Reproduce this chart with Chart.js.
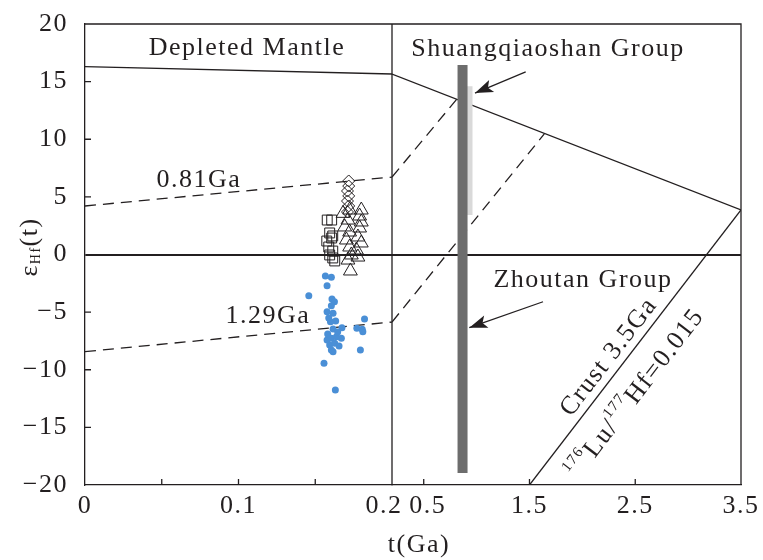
<!DOCTYPE html>
<html>
<head>
<meta charset="utf-8">
<script src="https://cdn.jsdelivr.net/npm/chart.js@4.4.1/dist/chart.umd.min.js"></script>
<style>
html, body { margin: 0; padding: 0; background: #fff; }
</style>
</head>
<body>
<canvas id="chart" width="763" height="560"></canvas>
<script>
// axis ticks
var xTicksLeft = [0, 0.05, 0.1, 0.15, 0.2];
var xLabelsLeft = ['0', '', '0.1', '', '0.2  '];
var xTicksRight = [0.5, 1.5, 2.5, 3.5];
var xLabelsRight = [' 0.5', '1.5', '2.5', '3.5'];
var yTicks = [20, 15, 10, 5, 0, -5, -10, -15, -20];
var BREAK_T = 0.2;

// zircon analyses, t (Ga) / eHf(t)
var dotT = [0.1566, 0.1605, 0.1577, 0.1458, 0.1609, 0.1625, 0.1605, 0.1577, 0.1616, 0.1599, 0.1633, 0.1616, 0.1674, 0.1821, 0.1771, 0.1806, 0.1810, 0.1577, 0.1605, 0.1638, 0.1670, 0.1594, 0.1627, 0.1655, 0.1605, 0.1616, 0.1794, 0.1557, 0.1631, 0.1588, 0.1646, 0.1581];
var dotE = [-1.87, -1.98, -2.71, -3.57, -3.86, -4.10, -4.44, -4.96, -5.10, -5.83, -5.77, -6.46, -6.35, -5.60, -6.40, -6.49, -6.70, -7.42, -7.27, -7.13, -7.27, -7.85, -7.70, -7.94, -8.29, -8.43, -8.29, -9.44, -11.76, -5.51, -6.72, -6.90];
var squareT = [0.1578, 0.1607, 0.1594, 0.1575, 0.1607, 0.1614, 0.1588, 0.1614, 0.1594, 0.1614, 0.1627];
var squareE = [2.99, 2.99, 1.87, 1.17, 1.43, 1.61, 0.65, 0.30, -0.04, -0.30, -0.56];
var diamondT = [0.1718, 0.1718, 0.1710, 0.1718, 0.1710, 0.1718, 0.1710];
var diamondE = [6.38, 5.94, 5.51, 5.08, 4.64, 4.21, 3.69];
var triT = [0.1724, 0.1800, 0.1789, 0.1681, 0.1713, 0.1800, 0.1692, 0.1789, 0.1724, 0.1778, 0.1703, 0.1800, 0.1724, 0.1768, 0.1735, 0.1778, 0.1713, 0.1729];
var triE = [3.86, 3.86, 3.34, 3.57, 2.99, 2.82, 2.39, 2.30, 1.95, 1.52, 1.26, 1.00, 0.65, 0.39, -0.04, -0.22, -0.48, -1.43];

// evolution lines
var dmT = [0, 0.2, 3.5];
var dmE = [16.3, 15.66, 3.86];
var ga081T = [0, 0.2, 0.813];
var ga081E = [4.21, 6.72, 13.48];
var ga129T = [0, 0.2, 1.64];
var ga129E = [-8.43, -5.86, 10.46];
var crustT = [1.5, 3.5];
var crustE = [-20, 3.86];

// group ranges
var zhoutanT = [0.867, 0.867];
var zhoutanE = [16.44, -18.96];
var shuangT = [0.914, 0.914];
var shuangE = [14.6, 3.43];

// arrows (tail, tip)
var arrowShT = [1.464, 0.985];
var arrowShE = [15.84, 14.01];
var arrowZhT = [1.628, 0.931];
var arrowZhE = [-4.10, -6.35];

var INK = '#231f20';
var FONT = '"Liberation Serif", "Times New Roman", serif';

function toPoints(tArr, eArr) {
	return tArr.map(function (t, i) { return { x: t, y: eArr[i] }; });
}
function leftPart(tArr, eArr) {
	return toPoints(tArr, eArr).filter(function (p) { return p.x <= BREAK_T; });
}
function rightPart(tArr, eArr) {
	return toPoints(tArr, eArr).filter(function (p) { return p.x >= BREAK_T; });
}
function lineSet(data, axis, dash, order) {
	return {
		data: data, xAxisID: axis, showLine: true, pointRadius: 0,
		borderColor: INK, borderWidth: 1.3, borderDash: dash || [], fill: false, order: order
	};
}
function barSet(data, color) {
	return {
		data: data, xAxisID: 'xr', showLine: true, pointRadius: 0,
		borderColor: color, borderWidth: 10, borderCapStyle: 'butt', order: 2
	};
}
function markerSet(data, style, radius, fillColor, lineW) {
	return {
		data: data, xAxisID: 'xl', showLine: false, pointStyle: style, pointRadius: radius,
		backgroundColor: fillColor, borderColor: INK, borderWidth: lineW, order: 1
	};
}
function noPad(s) {
	s.paddingTop = 0; s.paddingBottom = 0; s.paddingLeft = 0; s.paddingRight = 0;
}

var datasets = [];
datasets.push(lineSet(leftPart(dmT, dmE), 'xl', null, 3));
datasets.push(lineSet(rightPart(dmT, dmE), 'xr', null, 3));
datasets.push(lineSet(leftPart(ga081T, ga081E), 'xl', [11, 7], 3));
datasets.push(lineSet(rightPart(ga081T, ga081E), 'xr', [11, 7], 3));
datasets.push(lineSet(leftPart(ga129T, ga129E), 'xl', [11, 7], 3));
datasets.push(lineSet(rightPart(ga129T, ga129E), 'xr', [11, 7], 3));
datasets.push(lineSet(toPoints(crustT, crustE), 'xr', null, 3));
datasets.push(barSet(toPoints(zhoutanT, zhoutanE), '#6d6d6d'));
datasets.push(barSet(toPoints(shuangT, shuangE), '#d9d9d9'));
datasets.push(markerSet(toPoints(dotT, dotE), 'circle', 3.5, '#4a8fd6', 0));
datasets.push(markerSet(toPoints(squareT, squareE), 'rect', 7, 'rgba(0,0,0,0)', 1));
datasets.push(markerSet(toPoints(diamondT, diamondE), 'rectRot', 6, 'rgba(0,0,0,0)', 1));
datasets.push(markerSet(toPoints(triT, triE), 'triangle', 8, 'rgba(0,0,0,0)', 1));
var a1 = lineSet(toPoints(arrowShT, arrowShE), 'xr', null, 0);
a1.arrow = true;
datasets.push(a1);
var a2 = lineSet(toPoints(arrowZhT, arrowZhE), 'xr', null, 0);
a2.arrow = true;
datasets.push(a2);

// text pieces: [text, size, shift]
function drawRich(ctx, parts, x, y, angle, baseline) {
	ctx.save();
	ctx.translate(x, y);
	ctx.rotate(angle);
	ctx.letterSpacing = '1.5px';
	ctx.fillStyle = INK;
	ctx.textBaseline = baseline || 'alphabetic';
	ctx.textAlign = 'left';
	var total = 0;
	parts.forEach(function (p) {
		ctx.font = p[1] + 'px ' + FONT;
		total += ctx.measureText(p[0]).width;
	});
	var cx = -total / 2;
	parts.forEach(function (p) {
		ctx.font = p[1] + 'px ' + FONT;
		ctx.fillText(p[0], cx, p[2]);
		cx += ctx.measureText(p[0]).width;
	});
	ctx.restore();
}

var decoPlugin = {
	id: 'deco',
	beforeUpdate: function (chart) { chart.ctx.letterSpacing = '1.5px'; },
	beforeDraw: function (chart) { chart.ctx.letterSpacing = '1.5px'; },
	afterDatasetsDraw: function (chart) {
		var ctx = chart.ctx;
		// arrow heads
		chart.data.datasets.forEach(function (ds, i) {
			if (!ds.arrow) return;
			var pts = chart.getDatasetMeta(i).data;
			var p0 = pts[0], p1 = pts[pts.length - 1];
			var ang = Math.atan2(p1.y - p0.y, p1.x - p0.x);
			ctx.save();
			ctx.translate(p1.x, p1.y);
			ctx.rotate(ang);
			ctx.fillStyle = INK;
			ctx.beginPath();
			ctx.moveTo(0, 0);
			ctx.lineTo(-18, -6.5);
			ctx.lineTo(-14, 0);
			ctx.lineTo(-18, 6.5);
			ctx.closePath();
			ctx.fill();
			ctx.restore();
		});
	},
	afterDraw: function (chart) {
		var ctx = chart.ctx, a = chart.chartArea;
		var xl = chart.scales.xl, xr = chart.scales.xr, y = chart.scales.y;
		ctx.save();
		ctx.strokeStyle = INK;
		ctx.lineWidth = 1.3;
		ctx.beginPath();
		ctx.moveTo(a.left, a.top);
		ctx.lineTo(a.right, a.top);
		ctx.lineTo(a.right, a.bottom);
		ctx.moveTo(xr.left, a.top);
		ctx.lineTo(xr.left, a.bottom);
		yTicks.forEach(function (v) {
			if (v === 0 || v === 20 || v === -20) return;
			var py = y.getPixelForValue(v);
			ctx.moveTo(a.left, py);
			ctx.lineTo(a.left + 6, py);
		});
		xTicksLeft.forEach(function (v) {
			if (v === 0 || v === BREAK_T) return;
			var px = xl.getPixelForValue(v);
			ctx.moveTo(px, a.bottom);
			ctx.lineTo(px, a.bottom - 6);
		});
		xTicksRight.forEach(function (v) {
			if (v === 3.5) return;
			var px = xr.getPixelForValue(v);
			ctx.moveTo(px, a.bottom);
			ctx.lineTo(px, a.bottom - 6);
		});
		ctx.stroke();
		ctx.restore();

		var ang = -52.4 * Math.PI / 180;
		drawRich(ctx, [['Depleted Mantle', 26, 0]], 247, 55);
		drawRich(ctx, [['Shuangqiaoshan Group', 26, 0]], 548, 56);
		drawRich(ctx, [['Zhoutan Group', 26, 0]], 583, 287);
		drawRich(ctx, [['0.81Ga', 26, 0]], 199, 187);
		drawRich(ctx, [['1.29Ga', 26, 0]], 268, 323);
		drawRich(ctx, [['Crust 3.5Ga', 26, 0]], 609, 357, ang, 'middle');
		drawRich(ctx, [['176', 15, -10], ['Lu/', 26, 0], ['177', 15, -10], ['Hf=0.015', 26, 0]], 636, 394, ang, 'middle');
		drawRich(ctx, [['t(Ga)', 26, 0]], 419, 552);
		drawRich(ctx, [['\u03b5', 26, 0], ['Hf', 14, 6], ['(t)', 26, 0]], 30, 247, -Math.PI / 2, 'middle');
	}
};

var tickFont = { family: FONT, size: 26 };

var chart = new Chart(document.getElementById('chart'), {
	type: 'scatter',
	data: { datasets: datasets },
	options: {
		responsive: false,
		animation: false,
		events: [],
		layout: { padding: { top: 24, right: 22, left: 0, bottom: 0 } },
		plugins: { legend: { display: false }, tooltip: { enabled: false } },
		scales: {
			xl: {
				type: 'linear', position: 'bottom', axis: 'x', stack: 'x', stackWeight: 307,
				min: 0, max: BREAK_T,
				afterBuildTicks: function (s) { s.ticks = xTicksLeft.map(function (v) { return { value: v }; }); },
				afterFit: function (s) { s.height = 75; noPad(s); },
				grid: { display: false },
				border: { display: true, color: INK, width: 1.3 },
				ticks: {
					autoSkip: false, maxRotation: 0, padding: -2, color: INK, font: tickFont,
					callback: function (v, i) { return xLabelsLeft[i]; }
				}
			},
			xr: {
				type: 'linear', position: 'bottom', axis: 'x', stack: 'x', stackWeight: 349,
				min: BREAK_T, max: 3.5,
				afterBuildTicks: function (s) { s.ticks = xTicksRight.map(function (v) { return { value: v }; }); },
				afterFit: function (s) { s.height = 75; noPad(s); },
				grid: { display: false },
				border: { display: true, color: INK, width: 1.3 },
				ticks: {
					autoSkip: false, maxRotation: 0, padding: -2, color: INK, font: tickFont,
					callback: function (v, i) { return xLabelsRight[i]; }
				}
			},
			y: {
				type: 'linear', position: 'left', min: -20, max: 20,
				afterBuildTicks: function (s) { s.ticks = yTicks.map(function (v) { return { value: v }; }); },
				afterFit: function (s) { s.width = 85; noPad(s); },
				grid: {
					drawTicks: false,
					color: function (c) { return c.tick && c.tick.value === 0 ? INK : 'rgba(0,0,0,0)'; },
					lineWidth: 2
				},
				border: { display: true, color: INK, width: 1.3 },
				ticks: {
					autoSkip: false, padding: 17, color: INK, font: tickFont,
					callback: function (v) { return String(v).replace('-', '\u2212'); }
				}
			}
		}
	},
	plugins: [decoPlugin]
});
</script>
</body>
</html>
